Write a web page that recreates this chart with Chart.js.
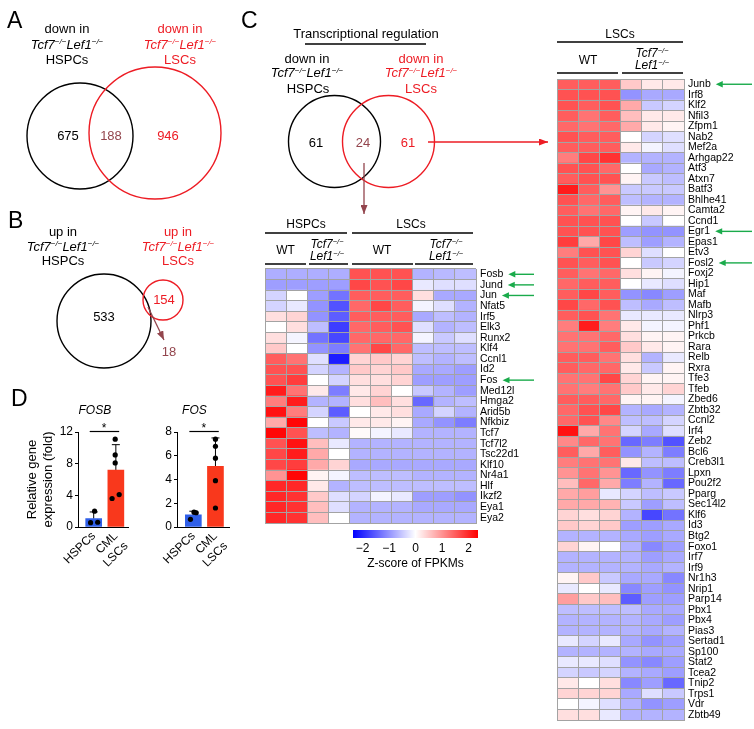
<!DOCTYPE html>
<html>
<head>
<meta charset="utf-8">
<script src="https://cdn.jsdelivr.net/npm/chart.js@4.4.1/dist/chart.umd.min.js"></script>
<style>
  body { margin: 0; background: #fff; }
  #fig { position: relative; width: 754px; height: 729px; overflow: hidden; font-family: "Liberation Sans", Arial, sans-serif; }
  #fig canvas { position: absolute; }
  #fig svg { position: absolute; left: 0; top: 0; pointer-events: none; }
</style>
</head>
<body>
<div id="fig">
  <canvas id="hmLeft" width="274" height="260" style="left:262px;top:266px"></canvas>
  <canvas id="hmRight" width="200" height="647" style="left:554px;top:76px"></canvas>
  <canvas id="zbar" width="150" height="50" style="left:340px;top:525px"></canvas>
  <canvas id="fosbChart" width="140" height="175" style="left:0px;top:400px"></canvas>
  <canvas id="fosChart" width="100" height="175" style="left:140px;top:400px"></canvas>

  <svg width="754" height="729" font-family="Liberation Sans, Arial, sans-serif">
    <defs>
      <marker id="mRed" markerWidth="9" markerHeight="7" refX="9" refY="3.5" orient="auto" markerUnits="userSpaceOnUse"><path d="M0,0 L9,3.5 L0,7 z" fill="#ed1c24"/></marker>
      <marker id="mBrown" markerWidth="9" markerHeight="7" refX="9" refY="3.5" orient="auto" markerUnits="userSpaceOnUse"><path d="M0,0 L9,3.5 L0,7 z" fill="#93454d"/></marker>
    </defs>

    <!-- panel letters -->
    <g font-size="23">
      <text x="7" y="28">A</text>
      <text x="8" y="228">B</text>
      <text x="241" y="28">C</text>
      <text x="11" y="406">D</text>
    </g>

    <!-- A -->
    <g font-size="13" text-anchor="middle">
      <text x="67" y="32.5">down in</text>
      <text x="67" y="48.5" font-style="italic">Tcf7<tspan font-size="8" dy="-4.5">−/−</tspan><tspan dy="4.5">Lef1</tspan><tspan font-size="8" dy="-4.5">−/−</tspan></text>
      <text x="67" y="64">HSPCs</text>
      <g fill="#ed1c24">
        <text x="180" y="32.5">down in</text>
        <text x="180" y="48.5" font-style="italic">Tcf7<tspan font-size="8" dy="-4.5">−/−</tspan><tspan dy="4.5">Lef1</tspan><tspan font-size="8" dy="-4.5">−/−</tspan></text>
        <text x="180" y="64">LSCs</text>
      </g>
      <text x="68" y="140">675</text>
      <text x="111" y="140" fill="#93454d">188</text>
      <text x="168" y="140" fill="#ed1c24">946</text>
    </g>
    <circle cx="80" cy="136" r="53" fill="none" stroke="#000" stroke-width="1.4"/>
    <circle cx="155" cy="133" r="66" fill="none" stroke="#ed1c24" stroke-width="1.4"/>

    <!-- B -->
    <g font-size="13" text-anchor="middle">
      <text x="63" y="235.5">up in</text>
      <text x="63" y="250.5" font-style="italic">Tcf7<tspan font-size="8" dy="-4.5">−/−</tspan><tspan dy="4.5">Lef1</tspan><tspan font-size="8" dy="-4.5">−/−</tspan></text>
      <text x="63" y="264.5">HSPCs</text>
      <g fill="#ed1c24">
        <text x="178" y="235.5">up in</text>
        <text x="178" y="250.5" font-style="italic">Tcf7<tspan font-size="8" dy="-4.5">−/−</tspan><tspan dy="4.5">Lef1</tspan><tspan font-size="8" dy="-4.5">−/−</tspan></text>
        <text x="178" y="264.5">LSCs</text>
      </g>
      <text x="104" y="320.5">533</text>
      <text x="164" y="303.5" fill="#ed1c24">154</text>
      <text x="169" y="355.5" fill="#93454d">18</text>
    </g>
    <circle cx="104" cy="321" r="47" fill="none" stroke="#000" stroke-width="1.4"/>
    <circle cx="163" cy="300" r="20" fill="none" stroke="#ed1c24" stroke-width="1.4"/>
    <line x1="148" y1="307" x2="164" y2="340" stroke="#93454d" stroke-width="1.3" marker-end="url(#mBrown)"/>

    <!-- C venn -->
    <g font-size="13" text-anchor="middle">
      <text x="366" y="37.5">Transcriptional regulation</text>
      <text x="307" y="62.5">down in</text>
      <text x="307" y="77" font-style="italic">Tcf7<tspan font-size="8" dy="-4.5">−/−</tspan><tspan dy="4.5">Lef1</tspan><tspan font-size="8" dy="-4.5">−/−</tspan></text>
      <text x="308" y="92.5">HSPCs</text>
      <g fill="#ed1c24">
        <text x="421" y="62.5">down in</text>
        <text x="421" y="77" font-style="italic">Tcf7<tspan font-size="8" dy="-4.5">−/−</tspan><tspan dy="4.5">Lef1</tspan><tspan font-size="8" dy="-4.5">−/−</tspan></text>
        <text x="421" y="92.5">LSCs</text>
      </g>
      <text x="316" y="146.5">61</text>
      <text x="363" y="146.5" fill="#93454d">24</text>
      <text x="408" y="146.5" fill="#ed1c24">61</text>
    </g>
    <line x1="305" y1="44" x2="426" y2="44" stroke="#000" stroke-width="1.3"/>
    <circle cx="334.5" cy="141.5" r="46" fill="none" stroke="#000" stroke-width="1.4"/>
    <circle cx="388.5" cy="141.5" r="46" fill="none" stroke="#ed1c24" stroke-width="1.4"/>
    <line x1="428" y1="142" x2="548" y2="142" stroke="#ed1c24" stroke-width="1.3" marker-end="url(#mRed)"/>
    <line x1="364" y1="163" x2="364" y2="214" stroke="#93454d" stroke-width="1.3" marker-end="url(#mBrown)"/>

    <!-- left heatmap headers -->
    <g font-size="12" text-anchor="middle">
      <text x="306" y="228">HSPCs</text>
      <text x="411" y="228">LSCs</text>
      <text x="285.5" y="254">WT</text>
      <text x="382" y="254">WT</text>
      <g font-style="italic">
        <text x="327" y="247.5">Tcf7<tspan font-size="7.5" dy="-4">−/−</tspan></text>
        <text x="327" y="260">Lef1<tspan font-size="7.5" dy="-4">−/−</tspan></text>
        <text x="446" y="247.5">Tcf7<tspan font-size="7.5" dy="-4">−/−</tspan></text>
        <text x="446" y="260">Lef1<tspan font-size="7.5" dy="-4">−/−</tspan></text>
      </g>
    </g>
    <g stroke="#000" stroke-width="1.3">
      <line x1="265" y1="233" x2="347" y2="233"/>
      <line x1="352" y1="233" x2="473" y2="233"/>
      <line x1="265" y1="264" x2="306" y2="264"/>
      <line x1="309" y1="264" x2="348" y2="264"/>
      <line x1="352" y1="264" x2="413" y2="264"/>
      <line x1="415" y1="264" x2="473" y2="264"/>
    </g>

    <!-- right heatmap headers -->
    <g font-size="12" text-anchor="middle">
      <text x="620" y="38">LSCs</text>
      <text x="588" y="63.5">WT</text>
      <g font-style="italic">
        <text x="652" y="56.5">Tcf7<tspan font-size="7.5" dy="-4">−/−</tspan></text>
        <text x="652" y="69">Lef1<tspan font-size="7.5" dy="-4">−/−</tspan></text>
      </g>
    </g>
    <g stroke="#000" stroke-width="1.3">
      <line x1="557" y1="42" x2="683" y2="42"/>
      <line x1="557" y1="73" x2="618" y2="73"/>
      <line x1="622" y1="73" x2="683" y2="73"/>
    </g>
  </svg>
</div>

<script>
// ---- heatmap data (z-scores of FPKMs) ----
const hspcLscGenes = ['Fosb','Jund','Jun','Nfat5','Irf5','Elk3','Runx2','Klf4','Ccnl1','Id2','Fos','Med12l',
  'Hmga2','Arid5b','Nfkbiz','Tcf7','Tcf7l2','Tsc22d1','Klf10','Nr4a1','Hlf','Ikzf2','Eya1','Eya2'];
// columns: HSPC WT x2, HSPC dKO x2, LSC WT x3, LSC dKO x3
const hspcLscZ = [
  [-0.75,-0.75,-0.75,-0.75, 1.6,1.6,1.6, -0.7,-0.65,-0.6],
  [-0.9,-0.9,-0.9,-0.9, 1.7,1.6,1.7, -0.2,-0.3,-0.3],
  [-0.4,0.0,-0.9,-1.3, 1.5,1.5,1.5, 0.3,-0.8,-0.8],
  [-0.4,-0.2,-1.0,-1.6, 1.4,1.7,1.5, -0.1,-0.3,-0.7],
  [0.3,0.4,-1.0,-1.5, 1.5,1.5,1.5, -0.8,-0.6,-0.7],
  [0.0,0.3,-0.6,-1.8, 1.4,1.5,1.6, -0.3,-0.7,-0.6],
  [0.3,-0.1,-1.3,-1.7, 1.4,1.4,1.4, -0.1,-0.5,-0.3],
  [0.5,0.0,-1.0,-1.2, 1.3,1.7,1.4, -0.6,-0.6,-0.6],
  [1.5,1.3,-0.3,-2.1, 0.4,0.5,0.4, -0.6,-0.7,-0.6],
  [1.6,1.6,-0.4,-0.7, 0.5,0.4,0.5, -0.8,-0.8,-0.9],
  [1.6,1.8,0.0,-0.4, 0.3,0.3,0.4, -0.9,-0.9,-0.9],
  [2.1,1.3,0.2,-1.2, 0.2,0.4,0.0, -0.5,-0.7,-0.9],
  [1.2,2.1,-0.7,-0.7, 0.3,0.6,0.3, -1.4,-0.7,-0.6],
  [2.2,1.2,-0.4,-1.5, 0.0,0.2,0.3, -0.8,-0.4,-0.7],
  [0.8,2.3,0.0,-0.5, 0.2,0.2,0.1, -0.8,-1.0,-1.2],
  [2.3,1.6,-0.6,-0.7, 0.05,-0.1,-0.2, -0.7,-0.7,-0.7],
  [1.6,2.2,0.6,-0.2, -0.7,-0.7,-0.7, -0.7,-0.7,-0.7],
  [1.7,2.1,0.8,0.0, -0.7,-0.7,-0.7, -0.7,-0.7,-0.7],
  [1.7,1.8,0.8,0.4, -0.8,-0.8,-0.8, -0.8,-0.8,-0.8],
  [1.0,2.3,0.1,-0.1, -0.6,-0.6,-0.6, -0.7,-0.7,-0.7],
  [2.0,2.0,0.2,-0.7, -0.6,-0.6,-0.6, -0.6,-0.6,-0.6],
  [2.0,1.9,0.5,-0.3, -0.4,-0.1,-0.2, -0.9,-0.9,-1.0],
  [2.0,1.9,0.6,-0.3, -0.7,-0.7,-0.7, -0.8,-0.8,-0.8],
  [2.0,1.9,0.6,0.0, -0.7,-0.7,-0.7, -0.7,-0.7,-0.7]
];
const hspcLscArrows = ['Fosb','Jund','Jun','Fos'];

const lscGenes = ['Junb','Irf8','Klf2','Nfil3','Zfpm1','Nab2','Mef2a','Arhgap22','Atf3','Atxn7','Batf3',
  'Bhlhe41','Camta2','Ccnd1','Egr1','Epas1','Etv3','Fosl2','Foxj2','Hip1','Maf','Mafb','Nlrp3','Phf1',
  'Prkcb','Rara','Relb','Rxra','Tfe3','Tfeb','Zbed6','Zbtb32','Ccnl2','Irf4','Zeb2','Bcl6','Creb3l1',
  'Lpxn','Pou2f2','Pparg','Sec14l2','Klf6','Id3','Btg2','Foxo1','Irf7','Irf9','Nr1h3','Nrip1','Parp14',
  'Pbx1','Pbx4','Pias3','Sertad1','Sp100','Stat2','Tcea2','Tnip2','Trps1','Vdr','Zbtb49'];
// columns: LSC WT x3, LSC dKO x3
const lscZ = [
  [1.5,1.5,1.5, 0.5,0.2,0.2],
  [1.6,1.6,1.6, -1.0,-0.8,-0.8],
  [1.6,1.5,1.6, 0.8,-0.5,-0.4],
  [1.5,1.3,1.5, 0.6,0.2,0.2],
  [1.4,1.3,1.4, 0.8,0.2,0.1],
  [1.6,1.5,1.5, 0.0,-0.4,-0.3],
  [1.5,1.5,1.5, 0.2,-0.1,-0.3],
  [1.2,1.7,1.9, -0.7,-0.7,-0.7],
  [1.6,1.6,1.4, 0.0,-0.8,-0.7],
  [1.5,1.6,1.6, 0.1,-0.5,-0.6],
  [2.1,1.5,1.0, -0.5,-0.5,-0.5],
  [1.6,1.4,1.5, -0.6,-0.7,-0.7],
  [1.5,1.3,1.4, 0.1,0.2,0.1],
  [1.6,1.6,1.6, 0.0,-0.5,0.0],
  [1.6,1.6,1.6, -0.9,-1.0,-1.0],
  [1.8,0.8,1.7, -0.6,-0.9,-0.7],
  [1.2,1.6,1.6, 0.4,-0.3,0.0],
  [1.6,1.5,1.6, 0.0,-0.5,-0.4],
  [1.5,1.3,1.4, 0.3,0.1,-0.1],
  [1.4,1.5,1.5, 0.0,-0.2,-0.3],
  [1.5,1.7,1.5, -1.0,-1.1,-0.9],
  [1.7,1.4,1.6, -0.6,-0.8,-0.6],
  [1.5,1.6,1.3, -0.2,-0.2,-0.2],
  [1.2,2.1,1.2, 0.2,-0.1,-0.1],
  [1.3,1.3,1.4, 0.3,0.1,0.1],
  [1.3,1.3,1.5, 0.5,0.2,0.1],
  [1.5,1.5,1.3, 0.3,-0.7,-0.2],
  [1.5,1.4,1.4, 0.2,-0.5,0.1],
  [1.3,1.3,1.7, 0.4,0.1,0.1],
  [1.3,1.2,1.3, 0.5,0.2,0.4],
  [1.5,1.5,1.4, 0.1,0.1,-0.1],
  [1.4,1.6,1.7, -0.7,-0.8,-0.7],
  [1.4,1.6,1.1, -0.6,-0.6,-0.4],
  [2.2,0.8,1.3, -0.4,-0.8,-0.3],
  [1.1,1.4,1.3, -1.4,-1.2,-1.6],
  [1.5,0.8,1.5, -1.0,-0.7,-1.2],
  [1.2,1.3,1.3, 0.2,-0.6,-0.6],
  [1.0,1.3,1.0, -1.4,-1.0,-1.2],
  [0.6,1.4,0.8, -1.2,-0.7,-1.4],
  [0.8,0.9,-0.2, -0.4,-0.6,-0.5],
  [0.8,0.8,0.7, -0.5,-0.9,-0.6],
  [0.4,0.3,0.4, -0.7,-1.7,-1.3],
  [0.5,0.4,0.5, -0.9,-0.9,-0.8],
  [-0.7,-0.7,-0.7, -0.8,-0.9,-0.8],
  [0.4,0.1,0.0, -0.7,-1.1,-0.9],
  [-0.7,-0.7,-0.7, -0.7,-0.9,-0.8],
  [-0.7,-0.7,-0.7, -0.7,-0.8,-0.7],
  [0.1,0.5,-0.5, -0.8,-0.8,-1.1],
  [-0.2,0.0,-0.2, -1.1,-0.9,-1.0],
  [0.9,0.5,0.6, -1.5,-0.9,-0.9],
  [-0.6,-0.6,-0.6, -0.6,-0.8,-0.8],
  [-0.7,-0.7,-0.7, -0.7,-0.8,-0.9],
  [-0.7,-0.7,-0.7, -0.7,-0.8,-0.7],
  [-0.2,-0.4,-0.2, -0.8,-1.0,-0.9],
  [-0.7,-0.7,-0.7, -0.7,-0.8,-0.8],
  [-0.2,-0.2,-0.3, -1.0,-1.1,-0.9],
  [-0.4,-0.5,-0.4, -0.7,-0.8,-0.9],
  [0.2,0.0,0.3, -1.1,-0.9,-1.4],
  [0.4,0.4,0.4, -0.8,-0.3,-0.5],
  [0.0,-0.1,-0.3, -0.7,-1.0,-0.9],
  [0.3,0.3,-0.2, -0.7,-0.7,-0.7]
];
const lscArrows = ['Junb','Egr1','Fosl2'];

const colorbarTicks = [-2, -1, 0, 1, 2];

// ---- qPCR data (panel D) ----
const qpcrGroups = ['HSPCs', ['CML', 'LSCs']];
const fosbMean = [1.05, 7.2];
const fosbSd = [0.85, 3.2];
const fosbDots = [[2.0, 0.55, 0.6], [11.1, 9.1, 8.1, 3.6, 4.1]];
const fosMean = [1.03, 5.1];
const fosSd = [0.3, 2.4];
const fosDots = [[0.65, 1.2, 1.25], [7.4, 6.8, 5.8, 3.9, 1.6]];

// ---------------------------------------------
const FONT = '"Liberation Sans", Arial, sans-serif';
Chart.defaults.font.family = FONT;
Chart.defaults.color = '#000';
Chart.defaults.animation = false;
Chart.defaults.plugins.legend.display = false;
Chart.defaults.plugins.tooltip.enabled = false;

const Z_MAX = 2.36;
const GRID = '#a3a3a3';
const GREEN = '#1aab4b';

function zColor(z) {
  const t = Math.max(-1, Math.min(1, z / Z_MAX));
  if (t < 0) {
    const k = Math.round(255 * (1 + t));
    return `rgb(${k},${k},255)`;
  }
  const k = Math.round(255 * (1 - t));
  return `rgb(255,${k},${k})`;
}

// green arrows pointing at highlighted gene names
const geneArrows = {
  id: 'geneArrows',
  afterDraw(chart, args, opts) {
    if (!opts.genes) return;
    const { ctx, chartArea, scales: { y } } = chart;
    ctx.save();
    ctx.font = `${opts.fontSize}px ${FONT}`;
    ctx.strokeStyle = GREEN;
    ctx.fillStyle = GREEN;
    ctx.lineWidth = 1.4;
    opts.genes.forEach(g => {
      const py = y.getPixelForValue(y.getLabels().indexOf(g));
      const tip = chartArea.right + opts.labelPad + ctx.measureText(g).width + 5;
      const tail = chart.width - 2;
      ctx.beginPath();
      ctx.moveTo(tip + 5, py);
      ctx.lineTo(tail, py);
      ctx.stroke();
      ctx.beginPath();
      ctx.moveTo(tip, py);
      ctx.lineTo(tip + 7, py - 3.2);
      ctx.lineTo(tip + 7, py + 3.2);
      ctx.closePath();
      ctx.fill();
    });
    ctx.restore();
  }
};

function heatmap(id, genes, rows, labelW, arrows) {
  const nCol = rows[0].length;
  const datasets = rows[0].map((_, j) => ({
    data: genes.map(() => [j, j + 1]),
    backgroundColor: rows.map(r => zColor(r[j])),
    borderWidth: 0,
    barPercentage: 1,
    categoryPercentage: 1,
    grouped: false
  }));
  return new Chart(document.getElementById(id), {
    type: 'bar',
    data: { labels: genes, datasets },
    options: {
      indexAxis: 'y',
      responsive: false,
      layout: { padding: { left: 3, top: 3, bottom: 3, right: 0 } },
      plugins: { geneArrows: { genes: arrows, fontSize: 10.5, labelPad: 4 } },
      scales: {
        x: {
          type: 'linear', min: 0, max: nCol,
          ticks: { display: false, stepSize: 1 },
          grid: { color: GRID, drawTicks: false, z: 1 },
          border: { color: GRID, z: 1 },
          afterFit: s => { s.height = 0; }
        },
        y: {
          position: 'right',
          ticks: { autoSkip: false, padding: 4, font: { size: 10.5 } },
          grid: { offset: true, color: GRID, drawTicks: false, z: 1 },
          border: { color: GRID, z: 1 },
          afterFit: s => { s.width = labelW; s.paddingTop = 0; s.paddingBottom = 0; }
        }
      }
    },
    plugins: [geneArrows]
  });
}

heatmap('hmLeft', hspcLscGenes, hspcLscZ, 60, hspcLscArrows);
heatmap('hmRight', lscGenes, lscZ, 70, lscArrows);

// colour key
new Chart(document.getElementById('zbar'), {
  type: 'bar',
  data: {
    labels: ['z'],
    datasets: [{
      data: [[-Z_MAX, Z_MAX]],
      barPercentage: 1,
      categoryPercentage: 1,
      borderWidth: 0,
      backgroundColor: c => {
        const area = c.chart.chartArea;
        if (!area) return '#fff';
        const g = c.chart.ctx.createLinearGradient(area.left, 0, area.right, 0);
        g.addColorStop(0, 'rgb(0,0,255)');
        g.addColorStop(0.5, '#ffffff');
        g.addColorStop(1, 'rgb(255,0,0)');
        return g;
      }
    }]
  },
  options: {
    indexAxis: 'y',
    responsive: false,
    layout: { padding: { left: 13, right: 12, top: 5, bottom: 0 } },
    scales: {
      x: {
        type: 'linear', min: -Z_MAX, max: Z_MAX,
        afterBuildTicks: s => { s.ticks = colorbarTicks.map(v => ({ value: v })); },
        ticks: { font: { size: 12 }, padding: 3, callback: v => (v < 0 ? '\u2212' + Math.abs(v) : String(v)) },
        grid: { display: false, drawTicks: false },
        border: { display: false },
        title: { display: true, text: 'Z-score of FPKMs', font: { size: 12 }, padding: { top: 2, bottom: 4 } },
        afterFit: s => { s.height = 37; }
      },
      y: { display: false }
    }
  }
});

// error bars, significance bar, gene title
const qpcrDecor = {
  id: 'qpcrDecor',
  beforeDatasetsDraw(chart, args, o) {
    const { ctx, scales: { x, y } } = chart;
    ctx.save();
    ctx.strokeStyle = '#000';
    ctx.lineWidth = 1;
    o.mean.forEach((m, i) => {
      const px = x.getPixelForValue(i);
      const top = y.getPixelForValue(m + o.sd[i]);
      ctx.beginPath();
      ctx.moveTo(px, y.getPixelForValue(m));
      ctx.lineTo(px, top);
      ctx.moveTo(px - 4, top);
      ctx.lineTo(px + 4, top);
      ctx.stroke();
    });
    ctx.restore();
  },
  afterDraw(chart, args, o) {
    const { ctx, chartArea, scales: { x, y } } = chart;
    ctx.save();
    const sy = Math.round(y.getPixelForValue(o.sigAt)) + 0.5;
    ctx.strokeStyle = '#000';
    ctx.lineWidth = 1.2;
    ctx.beginPath();
    ctx.moveTo(x.getPixelForValue(-0.18), sy);
    ctx.lineTo(x.getPixelForValue(1.15), sy);
    ctx.stroke();
    ctx.fillStyle = '#000';
    ctx.textAlign = 'center';
    ctx.textBaseline = 'alphabetic';
    ctx.font = `12px ${FONT}`;
    ctx.fillText('*', x.getPixelForValue(0.47), sy);
    ctx.textBaseline = 'middle';
    ctx.font = `italic 12px ${FONT}`;
    ctx.fillText(o.title, x.getPixelForValue(0.05), chartArea.top - 21);
    ctx.restore();
  }
};

function qpcrChart(id, cfg) {
  const dots = [];
  cfg.dots.forEach((vals, i) => vals.forEach((v, k) => dots.push({ x: i + cfg.spread[i][k], y: v })));
  return new Chart(document.getElementById(id), {
    type: 'bar',
    data: {
      datasets: [
        { type: 'scatter', data: dots, pointRadius: 2.6, pointBackgroundColor: '#000', pointBorderWidth: 0, order: 0, clip: false },
        { type: 'bar', data: cfg.mean.map((m, i) => ({ x: i, y: m })), backgroundColor: ['#2f5fe8', '#f9381c'], barThickness: 16, order: 1 }
      ]
    },
    options: {
      responsive: false,
      layout: { padding: { left: 0, top: 32, right: cfg.padRight, bottom: 0 } },
      plugins: { qpcrDecor: { mean: cfg.mean, sd: cfg.sd, sigAt: cfg.sigAt, title: cfg.title } },
      scales: {
        x: {
          type: 'linear', min: cfg.xMin, max: cfg.xMax, offset: false,
          afterBuildTicks: s => { s.ticks = qpcrGroups.map((_, i) => ({ value: i })); },
          ticks: { callback: v => qpcrGroups[v], minRotation: 45, maxRotation: 45, font: { size: 12 }, padding: 2 },
          grid: { display: false, drawTicks: false },
          border: { color: '#000' },
          afterFit: s => { s.height = 48; }
        },
        y: {
          min: 0, max: cfg.yMax,
          ticks: { stepSize: 2, font: { size: 12 }, padding: 2 },
          grid: { drawOnChartArea: false, tickLength: 3, color: '#000' },
          border: { color: '#000' },
          title: cfg.yTitle
            ? { display: true, text: cfg.yTitle, font: { size: 13 }, padding: { top: 25, bottom: 0 } }
            : { display: false },
          afterFit: s => { s.width = cfg.yW; }
        }
      }
    },
    plugins: [qpcrDecor]
  });
}

qpcrChart('fosbChart', {
  title: 'FOSB', mean: fosbMean, sd: fosbSd, dots: fosbDots,
  spread: [[0.04, -0.14, 0.18], [-0.03, -0.03, -0.03, -0.17, 0.15]],
  yMax: 12, sigAt: 12.1, xMin: -0.708, xMax: 1.583, yW: 78, padRight: 7,
  yTitle: ['Relative gene', 'expression (fold)']
});
qpcrChart('fosChart', {
  title: 'FOS', mean: fosMean, sd: fosSd, dots: fosDots,
  spread: [[-0.13, 0.13, 0.03], [0, 0, 0, 0, 0]],
  yMax: 8, sigAt: 8.08, xMin: -0.739, xMax: 1.652, yW: 37, padRight: 8
});
</script>
</body>
</html>
